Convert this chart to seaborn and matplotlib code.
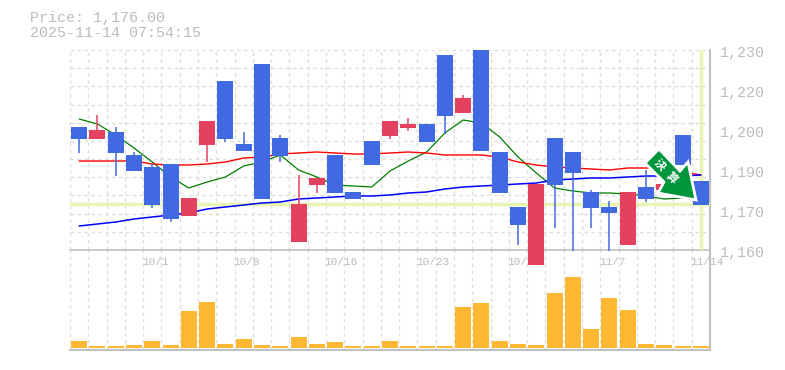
import numpy as np
import pandas as pd
import matplotlib
matplotlib.use("Agg")
import matplotlib.pyplot as plt
from matplotlib.patches import Polygon
import seaborn as sns

# prices
opens = [1203.05, 1198.85, 1201.3, 1193.25, 1189.05, 1190.1, 1171.9, 1196.75, 1219.15, 1197.1, 1225.1, 1199.2, 1162.8, 1182.75, 1193.25, 1180.3, 1198.15, 1199.9, 1202.7, 1204.1, 1228.25, 1207.95, 1230.0, 1194.3, 1175.05, 1154.75, 1199.2, 1194.3, 1180.3, 1175.05, 1161.75, 1182.05, 1181.0, 1200.25, 1184.15]
closes = [1198.85, 1202.0, 1193.95, 1187.65, 1175.75, 1170.85, 1178.2, 1205.15, 1198.85, 1194.65, 1177.85, 1192.9, 1176.1, 1185.2, 1179.95, 1177.85, 1189.75, 1205.15, 1204.1, 1197.8, 1206.9, 1213.2, 1194.65, 1179.95, 1168.75, 1183.1, 1182.75, 1186.95, 1174.7, 1172.95, 1180.3, 1177.85, 1183.1, 1189.75, 1175.75]
highs = [1203.05, 1207.25, 1203.05, 1194.3, 1190.1, 1190.1, 1178.2, 1205.15, 1219.15, 1201.3, 1225.1, 1200.25, 1186.25, 1185.2, 1193.25, 1180.3, 1198.15, 1205.15, 1206.2, 1204.1, 1228.25, 1214.25, 1230.0, 1194.3, 1175.05, 1183.1, 1199.2, 1194.3, 1181.0, 1177.15, 1180.3, 1188.0, 1183.1, 1200.25, 1184.15]
lows = [1193.95, 1198.85, 1185.9, 1187.65, 1174.7, 1169.8, 1171.9, 1190.8, 1197.8, 1194.65, 1177.85, 1190.8, 1162.8, 1179.95, 1179.95, 1177.85, 1189.75, 1198.85, 1201.65, 1197.8, 1200.6, 1207.95, 1194.65, 1179.95, 1161.75, 1154.75, 1167.7, 1159.65, 1167.7, 1159.65, 1161.75, 1176.8, 1181.0, 1189.75, 1175.75]

ma_short = [1205.85, 1204.1, 1200.25, 1195.7, 1190.8, 1185.55, 1181.7, 1183.8, 1185.55, 1189.4, 1190.8, 1193.25, 1188.0, 1185.55, 1182.75, 1182.4, 1182.05, 1187.65, 1191.15, 1194.3, 1200.95, 1205.5, 1204.45, 1199.55, 1192.55, 1186.95, 1181.7, 1180.65, 1179.95, 1179.95, 1179.6, 1178.9, 1177.85, 1178.2, 1177.85]
ma_mid = [1191.15, 1191.15, 1191.15, 1191.15, 1190.1, 1189.75, 1189.75, 1190.1, 1190.8, 1192.2, 1192.55, 1193.6, 1193.95, 1194.3, 1193.95, 1193.6, 1193.6, 1193.95, 1194.3, 1193.95, 1193.25, 1193.25, 1193.25, 1192.55, 1190.8, 1189.75, 1189.05, 1188.7, 1188.35, 1188.0, 1188.7, 1188.7, 1188.7, 1187.3, 1186.25]
ma_long = [1168.4, 1169.1, 1169.8, 1170.85, 1171.55, 1172.25, 1172.95, 1174.35, 1175.05, 1175.75, 1176.45, 1176.8, 1177.85, 1178.2, 1178.55, 1178.9, 1178.9, 1179.25, 1179.95, 1180.3, 1181.35, 1182.05, 1182.4, 1182.75, 1183.1, 1183.45, 1184.5, 1184.85, 1185.2, 1185.2, 1185.55, 1185.9, 1185.9, 1185.9, 1186.25]

volumes = [21, 6, 6, 9, 21, 9, 111, 138, 12, 27, 9, 6, 33, 12, 18, 6, 6, 21, 6, 6, 6, 123, 135, 21, 12, 9, 165, 213, 57, 150, 114, 12, 9, 6, 6]

price_labels = ["1,160", "1,170", "1,190", "1,200", "1,220", "1,230"]
date_ticks = [4, 9, 14, 19, 24, 29, 34]
date_labels = ["10/1", "10/8", "10/16", "10/23", "10/30", "11/7", "11/14"]
last_price = 1176.0

df = pd.DataFrame({"day": range(len(opens)), "open": opens, "close": closes,
                   "high": highs, "low": lows, "short": ma_short, "mid": ma_mid,
                   "long": ma_long, "volume": volumes})

sns.set_theme(style="white")
plt.rcParams["font.family"] = ["Liberation Mono", "DejaVu Sans Mono"]

GRID = "#dedede"
AXIS = "#c0c0c0"
TEXT = "#bcbcbc"
PALE = "#e6f5b0"
UP = "#e24260"
DOWN = "#4169e1"
W, H = 785, 370

fig = plt.figure(figsize=(W / 100, H / 100), dpi=100)
L, R = 70 / W, 710 / W
ax = fig.add_axes([L, 1 - 250 / H, R - L, 200 / H])
axv = fig.add_axes([L, 1 - 350 / H, R - L, 100 / H], sharex=ax)
ax.patch.set_alpha(0)
axv.patch.set_alpha(0)
axv.set_zorder(0)
ax.set_zorder(1)

n = len(df)
for a in (ax, axv):
    a.set_xlim(-0.5, n - 0.5)
    for s in a.spines.values():
        s.set_visible(False)
    a.tick_params(length=0, labelbottom=False, labelleft=False)
    for g in np.arange(n) - 0.5:
        a.axvline(g, color=GRID, lw=1, ls=(0, (2.5, 2.5)), zorder=0)
ax.set_ylim(1160, 1230)
for g in np.linspace(1160, 1230, 12):
    ax.axhline(g, color=GRID, lw=1, ls=(0, (2.5, 2.5)), zorder=0)
ax.axhline(1160, color=AXIS, lw=1.2, zorder=1, clip_on=False)
axv.set_ylim(-6, 294)
axv.axhline(-6, color=AXIS, lw=1.5, zorder=1, clip_on=False)
for a in (ax, axv):
    a.axvline(n - 0.5, color=AXIS, lw=1.5, zorder=1, clip_on=False)

# last price cross
ax.axhline(last_price, color=PALE, lw=2.5, zorder=1.5)
ax.axvline(n - 1, color=PALE, lw=2.5, zorder=1.5)

sns.lineplot(data=df, x="day", y="short", color="#007f00", lw=0.9, ax=ax, zorder=2, errorbar=None)
sns.lineplot(data=df, x="day", y="mid", color="#ff0000", lw=1.0, ax=ax, zorder=2, errorbar=None)
sns.lineplot(data=df, x="day", y="long", color="#0000ff", lw=1.1, ax=ax, zorder=2, errorbar=None)

colors = [UP if c >= o else DOWN for o, c in zip(df["open"], df["close"])]
ax.vlines(df["day"], df["low"], df["high"], colors=colors, lw=1.1, zorder=3, clip_on=False)
body = abs(df["close"] - df["open"])
bars = ax.bar(df["day"], body, bottom=df[["open", "close"]].min(axis=1), width=16 / 18.29,
              color=colors, lw=0, zorder=4)
for b in bars:
    b.set_clip_on(False)

sns.barplot(data=df, x="day", y="volume", color="#ffb833", saturation=1, width=16 / 18.29,
            native_scale=True, linewidth=0, ax=axv, zorder=3)
axv.set_xlim(-0.5, n - 0.5)
axv.set_xlabel("")
axv.set_ylabel("")
ax.set_xlabel("")
ax.set_ylabel("")

# labels
for frac, lab in zip(np.linspace(0, 1, len(price_labels)), price_labels):
    ax.annotate(lab, xy=(1, frac), xycoords="axes fraction", xytext=(10 * 0.72, -3 * 0.72),
                textcoords="offset points", ha="left", va="center", fontsize=10.8, color=TEXT,
                annotation_clip=False)
for d, lab in zip(date_ticks, date_labels):
    ax.annotate(lab, xy=(d, 0), xycoords=("data", "axes fraction"), xytext=(-10.5 * 0.72, -12 * 0.72),
                textcoords="offset points", ha="left", va="center", fontsize=8, color=TEXT,
                annotation_clip=False, zorder=2)

fig.text(30 / W, 1 - 18 / H, "Price: 1,176.00", fontsize=10.8, color=TEXT, va="center")
fig.text(30 / W, 1 - 33 / H, "2025-11-14 07:54:15", fontsize=10.8, color=TEXT, va="center")

# arrow badge, in pixels of the figure
pts = [(659, 149), (645, 163), (664, 182), (658, 193), (696, 200), (688, 162), (680, 171)]
fig_pts = [(x / W, 1 - y / H) for x, y in pts]
fig.add_artist(Polygon(fig_pts, closed=True, transform=fig.transFigure, facecolor="#00963c",
                       edgecolor="white", lw=2, joinstyle="miter", zorder=10))
for ch, cx, cy in [("決", 660, 165), ("算", 672, 178)]:
    fig.text(cx / W, 1 - cy / H, ch, rotation=-45, rotation_mode="anchor", ha="center", va="center",
             fontsize=8, fontweight="bold", color="white", family=["Noto Sans CJK JP", "DejaVu Sans"], zorder=11)

fig.savefig("out.png", dpi=100)
